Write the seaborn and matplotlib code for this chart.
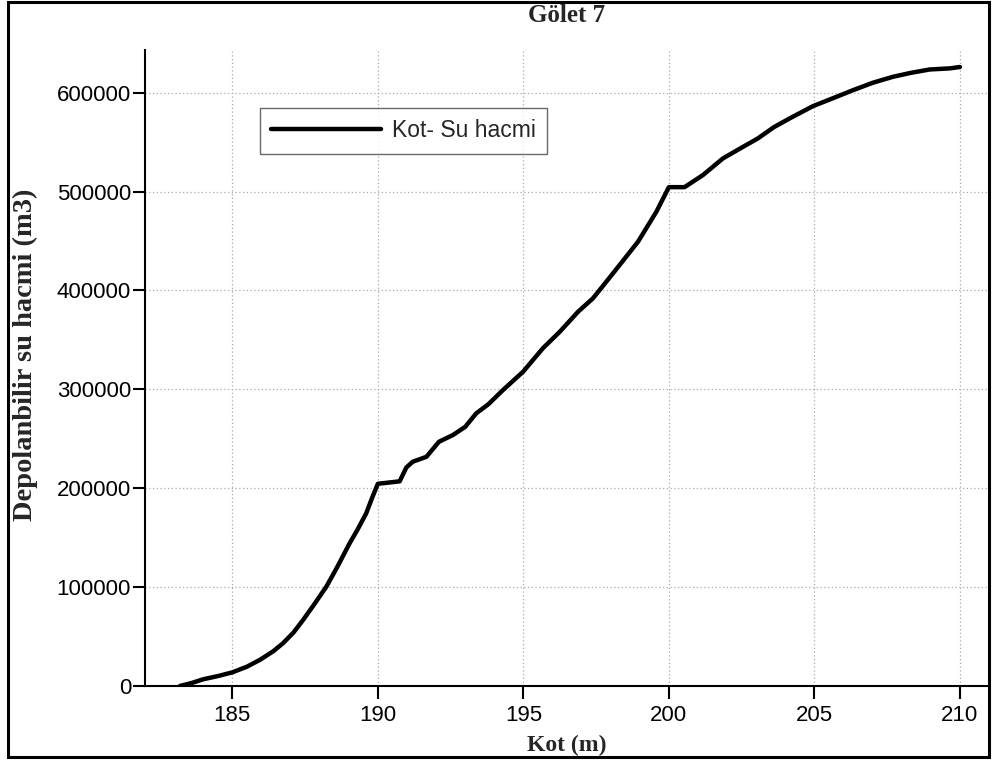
import matplotlib
matplotlib.use("Agg")
import matplotlib.pyplot as plt
from matplotlib.patches import Rectangle
import seaborn as sns
import pandas as pd

title = "Gölet 7"
x_label = "Kot (m)"
y_label = "Depolanbilir su hacmi (m3)"
series_name = "Kot- Su hacmi"

kot = [183.2, 183.6, 184.0, 184.5, 185.0, 185.5, 185.94, 186.4, 186.74, 187.1,
       187.43, 187.8, 188.23, 188.6, 189.03, 189.3, 189.6, 189.8, 190.0, 190.75,
       190.98, 191.2, 191.67, 192.1, 192.58, 193.0, 193.38, 193.8, 194.3, 194.99,
       195.67, 196.25, 196.88, 197.39, 198.08, 198.94, 199.57, 200.0, 200.54, 201.17,
       201.86, 202.55, 203.06, 203.6, 204.15, 204.95, 205.6, 206.33, 207.0, 207.7,
       208.3, 208.96, 209.65, 210.0]
hacim = [0, 3000, 6800, 10000, 13800, 19500, 26300, 35000, 43200, 54000,
         66700, 82000, 100400, 120000, 144300, 158000, 174600, 190000, 204500, 207000,
         221000, 226800, 231800, 247000, 253800, 262000, 275700, 285000, 299300, 317800,
         341500, 358200, 378500, 392000, 417300, 449300, 479600, 504500, 504500, 516700,
         533600, 545300, 553800, 565000, 574000, 586400, 594000, 602600, 610000, 616100,
         620000, 623500, 624600, 626000]

x_ticks = [185, 190, 195, 200, 205, 210]
y_ticks = [0, 100000, 200000, 300000, 400000, 500000, 600000]

df = pd.DataFrame({"kot": kot, "hacim": hacim})

sns.set_theme(style="white")
plt.rcParams["font.family"] = ["Liberation Sans", "DejaVu Sans"]

fig = plt.figure(figsize=(9.95, 7.62), dpi=100)
ax = fig.add_axes([145 / 995, 76 / 762, 844 / 995, 636 / 762])

sns.lineplot(data=df, x="kot", y="hacim", ax=ax, color="black", linewidth=3.2,
             label=series_name, sort=False, estimator=None)

ax.set_xlim(182.0, 211.0)
ax.set_ylim(0, 643200)
ax.set_xticks(x_ticks)
ax.set_yticks(y_ticks)
ax.set_xticklabels([str(t) for t in x_ticks])
ax.set_yticklabels([str(t) for t in y_ticks])

ax.grid(True, color="#aaaaaa", linestyle=(0, (1, 2)), linewidth=0.9)
for s in ["top", "right"]:
    ax.spines[s].set_visible(False)
for s in ["left", "bottom"]:
    ax.spines[s].set_color("black")
    ax.spines[s].set_linewidth(1.5)

ax.tick_params(axis="both", which="major", direction="out", length=9, width=1.5,
               color="black", labelcolor="black", labelsize=16, left=True, bottom=True)
ax.tick_params(axis="y", pad=1)
ax.tick_params(axis="x", pad=5)

serif = ["Liberation Serif", "DejaVu Serif"]
ax.set_xlabel(x_label, fontfamily=serif, fontweight="bold", fontsize=17, va="center")
ax.xaxis.set_label_coords(0.5, (686 - 745) / 636)
ax.set_ylabel(y_label, fontfamily=serif, fontweight="bold", fontsize=20.5, va="center")
ax.yaxis.set_label_coords((25 - 145) / 844, (686 - 355) / 636)
ax.set_title(title, fontfamily=serif, fontweight="bold", fontsize=18,
             y=(686 - 15) / 636, va="center", pad=0)

leg = ax.legend(loc="upper left", bbox_to_anchor=((260 - 145) / 844, (686 - 108) / 636),
                borderaxespad=0, frameon=True, fancybox=False, fontsize=16.5,
                handlelength=4.8, handletextpad=0.45, borderpad=0.5)
leg.get_frame().set_edgecolor("#444444")
leg.get_frame().set_linewidth(1.0)
for line in leg.get_lines():
    line.set_linewidth(3.2)

fig.patches.append(Rectangle((8 / 995, 5.5 / 762), 981 / 995, 755 / 762,
                             transform=fig.transFigure, fill=False,
                             edgecolor="black", linewidth=2.2))

fig.savefig("out.png", dpi=100)
